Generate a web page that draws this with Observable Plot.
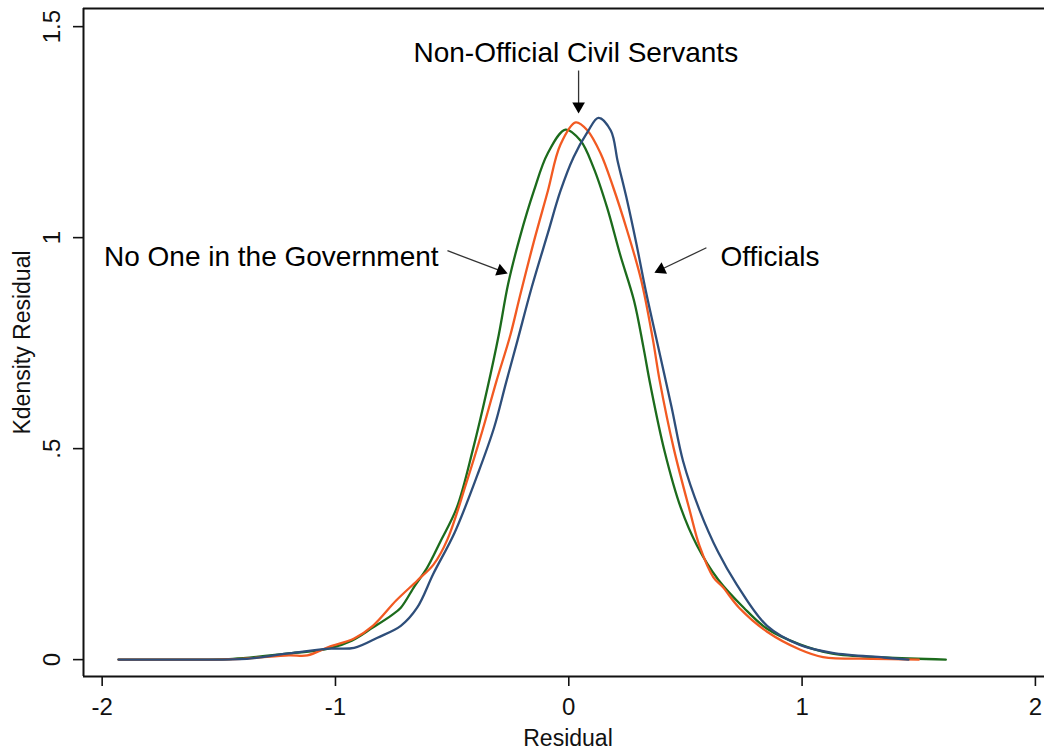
<!DOCTYPE html>
<html><head><meta charset="utf-8">
<script src="https://cdn.jsdelivr.net/npm/d3@7"></script>
<script src="https://cdn.jsdelivr.net/npm/@observablehq/plot@0.6"></script>
<style>html,body{margin:0;padding:0;background:#fff;overflow:hidden}</style>
</head><body><div id="chart"></div>
<script>
// ---- data ----
const groups = ["No One in the Government", "Non-Official Civil Servants", "Officials"];
const colors = ["#1c6b1c", "#f25a22", "#2e4e7a"];

const greenX = [-1.93,-1.7,-1.44,-1.21,-1.03,-0.93,-0.84,-0.76,-0.72,-0.66,-0.61,-0.55,-0.48,-0.41,-0.35,-0.30,-0.26,-0.21,-0.15,-0.09,-0.014,0.05,0.106,0.165,0.22,0.28,0.32,0.35,0.41,0.48,0.55,0.64,0.75,0.85,0.99,1.13,1.35,1.616];
const greenY = [0,0,0.002,0.014,0.026,0.045,0.076,0.105,0.123,0.175,0.215,0.28,0.36,0.5,0.64,0.77,0.89,1.0,1.11,1.2,1.256,1.23,1.166,1.07,0.96,0.85,0.74,0.65,0.495,0.36,0.27,0.19,0.123,0.073,0.036,0.014,0.005,0];

const orangeX = [-1.93,-1.6,-1.4,-1.2,-1.12,-1.03,-0.92,-0.84,-0.74,-0.65,-0.58,-0.52,-0.44,-0.37,-0.31,-0.25,-0.21,-0.15,-0.09,-0.036,0.03,0.08,0.136,0.19,0.25,0.31,0.36,0.39,0.45,0.52,0.56,0.62,0.66,0.73,0.85,0.99,1.09,1.3,1.5];
const orangeY = [0,0,0.002,0.01,0.01,0.03,0.05,0.08,0.14,0.187,0.225,0.285,0.417,0.543,0.66,0.77,0.86,0.99,1.11,1.22,1.273,1.254,1.2,1.12,1.017,0.9,0.76,0.66,0.5,0.35,0.27,0.195,0.172,0.123,0.066,0.024,0.006,0.002,0];

const blueX = [-1.93,-1.6,-1.38,-1.21,-1.03,-0.92,-0.82,-0.72,-0.65,-0.58,-0.49,-0.39,-0.32,-0.27,-0.22,-0.16,-0.09,-0.036,0.02,0.08,0.127,0.18,0.21,0.25,0.29,0.33,0.38,0.44,0.49,0.56,0.64,0.72,0.85,0.99,1.13,1.35,1.456];
const blueY = [0,0,0.002,0.014,0.026,0.028,0.052,0.08,0.123,0.204,0.3,0.44,0.55,0.654,0.756,0.88,1.01,1.11,1.19,1.25,1.284,1.254,1.18,1.088,0.985,0.874,0.749,0.6,0.47,0.355,0.255,0.178,0.08,0.035,0.016,0.005,0];

const xTicks = [-2,-1,0,1,2];
const xTickLabels = ["-2","-1","0","1","2"];
const yTicks = [0,0.5,1,1.5];
const yTickLabels = ["0",".5","1","1.5"];
const xTitle = "Residual";
const yTitle = "Kdensity Residual";

// annotations (data units)
const annText = ["Non-Official Civil Servants", "No One in the Government", "Officials"];
const annX = [0.03, -0.558, 0.65];
const annY = [1.438, 0.953, 0.953];
const annAnchor = ["middle", "end", "start"];
const arrX1 = [0.042, -0.52, 0.59];
const arrY1 = [1.396, 0.969, 0.976];
const arrX2 = [0.042, -0.262, 0.367];
const arrY2 = [1.294, 0.915, 0.917];

// ---- layout ----
const W = 1044, H = 753, mL = 83, mR = 0, mT = 8, mB = 77;
const xDom = [-2.08, 2.039], yDom = [-0.04, 1.543];
const kx = (W - mL - mR) / (xDom[1] - xDom[0]);
const ky = (H - mT - mB) / (yDom[1] - yDom[0]);

const rows = [];
[[greenX, greenY], [orangeX, orangeY], [blueX, blueY]].forEach(([xs, ys], g) => {
  xs.forEach((x, i) => rows.push({group: groups[g], x, y: ys[i]}));
});

const anns = annText.map((t, i) => ({t, x: annX[i], y: annY[i], a: annAnchor[i]}));
const arrows = arrX1.map((x1, i) => {
  const x2 = arrX2[i], y1 = arrY1[i], y2 = arrY2[i];
  const dx = (x2 - x1) * kx, dy = -(y2 - y1) * ky;
  const len = Math.hypot(dx, dy), ux = dx / len, uy = dy / len;
  const back = 7.3;
  return {x1, y1, x2: x2 - ux * back / kx, y2: y2 + uy * back / ky,
          angle: Math.atan2(ux, -uy) * 180 / Math.PI};
});

const annMarks = ["start", "middle", "end"].map(a =>
  Plot.text(anns.filter(d => d.a === a), {x: "x", y: "y", text: "t", textAnchor: a, lineAnchor: "middle", fontSize: 28, fill: "#000"})
);

const chart = Plot.plot({
  width: W, height: H,
  marginLeft: mL, marginRight: mR, marginTop: mT, marginBottom: mB,
  x: {domain: xDom},
  y: {domain: yDom},
  color: {domain: groups, range: colors},
  style: {fontFamily: "'Liberation Sans', Arial, sans-serif", background: "white", color: "#111"},
  marks: [
    Plot.axisX({ticks: xTicks, tickFormat: (d) => xTickLabels[xTicks.indexOf(d)], tickSize: 10, tickPadding: 11, fontSize: 24, label: null, strokeWidth: 1.6}),
    Plot.axisY({ticks: yTicks, tickFormat: () => "", tickSize: 10, label: null, strokeWidth: 1.6}),
    Plot.text(yTicks, {y: d => d, text: (d, i) => yTickLabels[i], frameAnchor: "left", dx: -31, rotate: -90, textAnchor: "middle", lineAnchor: "middle", fontSize: 24}),
    Plot.text([xTitle], {frameAnchor: "bottom", dy: 62, dx: 4, textAnchor: "middle", lineAnchor: "middle", fontSize: 23}),
    Plot.text([yTitle], {frameAnchor: "left", dx: -61, rotate: -90, textAnchor: "middle", lineAnchor: "middle", fontSize: 23}),
    Plot.ruleY([yDom[1]], {stroke: "#111", strokeWidth: 2}),
    Plot.ruleY([yDom[0]], {stroke: "#111", strokeWidth: 2}),
    Plot.ruleX([xDom[0]], {stroke: "#111", strokeWidth: 2}),
    Plot.line(rows, {x: "x", y: "y", z: "group", stroke: "group", strokeWidth: 2.3, curve: "catmull-rom"}),
    Plot.link(arrows, {x1: "x1", y1: "y1", x2: "x2", y2: "y2", stroke: "#333", strokeWidth: 1.3}),
    Plot.dot(arrows, {x: "x2", y: "y2", symbol: "triangle", r: 4.7, fill: "#000", stroke: "none", rotate: "angle"}),
    ...annMarks
  ]
});
document.getElementById("chart").appendChild(chart);
</script></body></html>
